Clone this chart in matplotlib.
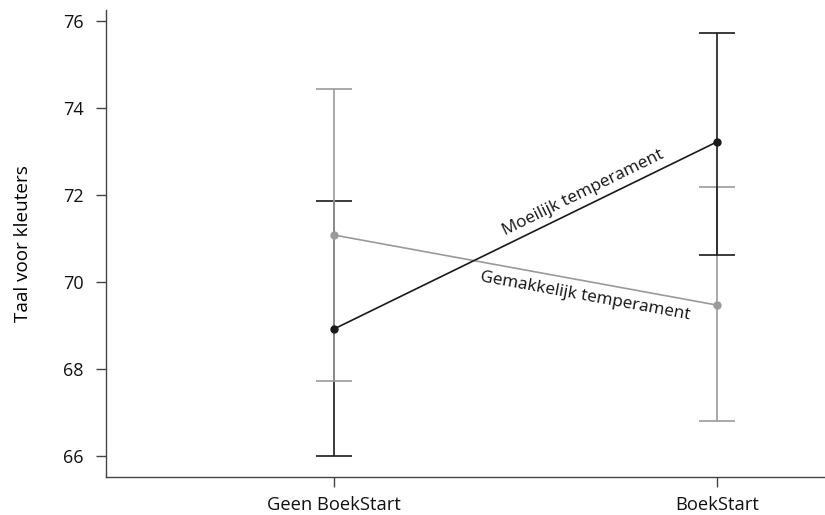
import numpy as np
import matplotlib
matplotlib.use("Agg")
import matplotlib.pyplot as plt

plt.rcParams['font.family'] = ['Open Sans', 'DejaVu Sans']

groups = ["Geen BoekStart", "BoekStart"]
moeilijk_mean = [68.92, 73.22]
moeilijk_low = [66.00, 70.63]
moeilijk_high = [71.86, 75.73]
gemak_mean = [71.08, 69.47]
gemak_low = [67.73, 66.81]
gemak_high = [74.44, 72.19]
yticks = [66, 68, 70, 72, 74, 76]
ylabel = "Taal voor kleuters"
label_moeilijk = "Moeilijk temperament"
label_gemak = "Gemakkelijk temperament"

black = "#1a1a1a"
gray = "#9a9a9a"

fig = plt.figure(figsize=(8.25, 5.15), dpi=100)
ax = fig.add_axes([106/825, 1-477/515, 1-106/825, (477-10)/515])

x = np.arange(len(groups))

def one_err(i, mean, lo, hi, color, z):
    ax.errorbar([x[i]], [mean[i]], yerr=[[mean[i]-lo[i]], [hi[i]-mean[i]]], color=color,
                lw=1.2, capsize=13, capthick=1.2, fmt='none', zorder=z)

# error bars (gray on top at first group, black on top at second)
one_err(0, moeilijk_mean, moeilijk_low, moeilijk_high, black, 2)
one_err(0, gemak_mean, gemak_low, gemak_high, gray, 3)
one_err(1, gemak_mean, gemak_low, gemak_high, gray, 2)
one_err(1, moeilijk_mean, moeilijk_low, moeilijk_high, black, 3)

ax.plot(x, gemak_mean, color=gray, lw=1.2, marker='o', ms=5, zorder=4)
ax.plot(x, moeilijk_mean, color=black, lw=1.2, marker='o', ms=5, zorder=5)

ax.set_xlim(-0.595, 1.282)
ax.set_ylim(65.52, 76.25)
ax.set_xticks(x)
ax.set_xticklabels(groups, fontsize=13.2)
ax.set_yticks(yticks)
ax.set_yticklabels([str(v) for v in yticks], fontsize=13)
ax.set_ylabel(ylabel, fontsize=13.6, labelpad=22)
for s in ['top', 'right']:
    ax.spines[s].set_visible(False)
for s in ['left', 'bottom']:
    ax.spines[s].set_color('#444444')
    ax.spines[s].set_linewidth(1.0)
ax.tick_params(axis='both', length=7, width=1.0, color='#444444', colors='#111111')
ax.tick_params(axis='x', pad=6.5)
ax.tick_params(axis='y', pad=9)

def place(mean, frac, d_pt, txt):
    p0 = ax.transData.transform((x[0], mean[0]))
    p1 = ax.transData.transform((x[1], mean[1]))
    a = np.degrees(np.arctan2(p1[1]-p0[1], p1[0]-p0[0]))
    xv = x[0] + frac*(x[1]-x[0])
    yv = mean[0] + frac*(mean[1]-mean[0])
    r = np.radians(a)
    ax.annotate(txt, xy=(xv, yv), xytext=(-np.sin(r)*d_pt, np.cos(r)*d_pt),
                textcoords='offset points', ha='center', va='center',
                rotation=a, rotation_mode='anchor', fontsize=12.3, color='#111111')

place(moeilijk_mean, 0.665, 9, label_moeilijk)
place(gemak_mean, 0.663, -11, label_gemak)

fig.savefig("out.png", dpi=100)
